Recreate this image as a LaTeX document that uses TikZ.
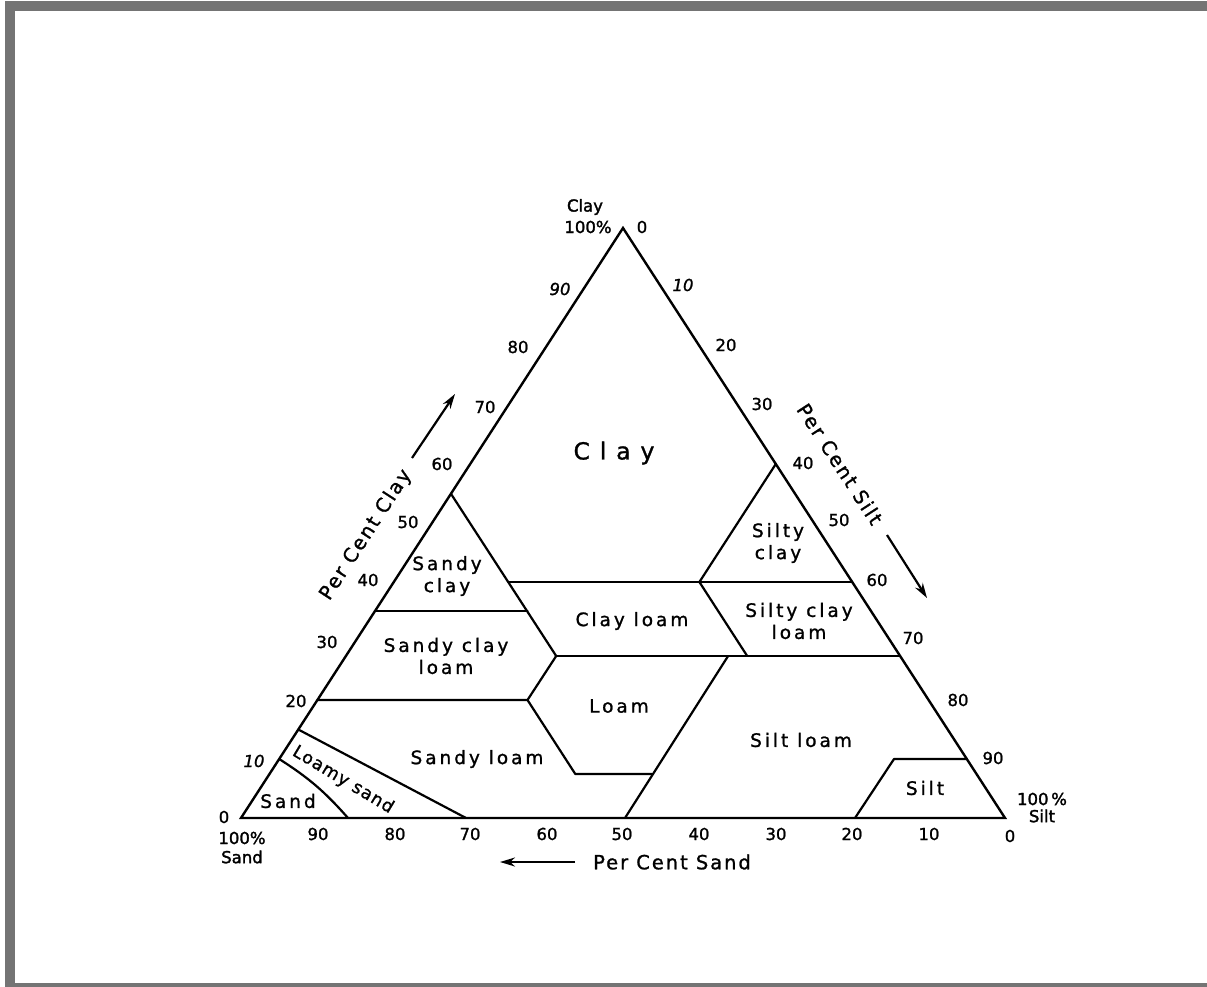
\documentclass[tikz,border=0pt]{standalone}
\usepackage{fontspec}
\setmainfont{DejaVu Sans}
\newfontfamily\numfont[FakeBold=1.2]{DejaVu Sans}
\newfontfamily\labfont[LetterSpace=16,FakeBold=1.2]{DejaVu Sans}
\newfontfamily\lsfont[LetterSpace=6,FakeBold=1.2]{DejaVu Sans}
\newfontfamily\bigfont[LetterSpace=42,FakeBold=1.2]{DejaVu Sans}
\newfontfamily\axfont[LetterSpace=10,FakeBold=1.2]{DejaVu Sans}
\newfontfamily\cornerfont[FakeBold=1.8]{DejaVu Sans}
\usetikzlibrary{arrows.meta}
\definecolor{framegray}{HTML}{747474}
\begin{document}
\begin{tikzpicture}[x=1pt,y=-1pt,
  edge/.style={line width=2.2pt,line join=round,line cap=round},
  border/.style={line width=2.4pt,line join=miter},
  num/.style={inner sep=0pt,font=\numfont\fontsize{16.5}{18}\selectfont},
  snum/.style={num,font=\numfont\fontsize{16.5}{18}\selectfont\itshape},
  region/.style={inner sep=0pt,align=center,font=\labfont\fontsize{18.5}{22}\selectfont},
  lsregion/.style={inner sep=0pt,font=\lsfont\fontsize{17.5}{20}\selectfont},
  bigregion/.style={inner sep=0pt,font=\bigfont\fontsize{23.5}{26}\selectfont},
  axtitle/.style={inner sep=0pt,font=\axfont\fontsize{19.5}{22}\selectfont},
  corner/.style={inner sep=0pt,font=\cornerfont\fontsize{16.5}{18}\selectfont},
  axarrow/.style={line width=2.2pt,-{Stealth[length=15pt,width=9pt]}}]
\useasboundingbox (0,0) rectangle (1207,987);
\fill[white] (0,0) rectangle (1207,987);
\fill[framegray] (5,1) rectangle (1207,11);
\fill[framegray] (5,1) rectangle (15,987);
\fill[framegray] (5,983) rectangle (1207,987);

% triangle vertices
\coordinate (A) at (623,228);
\coordinate (L) at (241,818);
\coordinate (R) at (1005,818);
% class boundary points
\coordinate (scTop) at (451.1,494);
\coordinate (scL) at (374.7,611);
\coordinate (scR) at (527.5,611);
\coordinate (c40a) at (508.4,582);
\coordinate (c40b) at (699.4,582);
\coordinate (c40R) at (852.2,582);
\coordinate (sicTop) at (775.8,464);
\coordinate (c275a) at (556.2,656);
\coordinate (c275b) at (747.2,656);
\coordinate (c275L) at (728.1,656);
\coordinate (c275R) at (900,656);
\coordinate (c20L) at (317.4,700);
\coordinate (c20R) at (527.5,700);
\coordinate (l75a) at (575.3,774);
\coordinate (l75b) at (651.7,774);
\coordinate (b50) at (625,818);
\coordinate (lsTop) at (298.3,729.5);
\coordinate (ls0) at (466,818);
\coordinate (sTop) at (279.2,759);
\coordinate (s0) at (348,818);
\coordinate (siTR) at (966.8,759);
\coordinate (siTL) at (894,759);
\coordinate (siB) at (855,818);

\draw[border] (L) -- (R) -- (A) -- cycle;
\draw[edge] (scTop) -- (c275a);
\draw[edge] (scL) -- (scR);
\draw[edge] (c40a) -- (c40R);
\draw[edge] (sicTop) -- (c40b) -- (c275b);
\draw[edge] (c275a) -- (c275R);
\draw[edge] (c20L) -- (c20R) -- (c275a);
\draw[edge] (c20R) -- (l75a) -- (l75b);
\draw[edge] (c275L) -- (b50);
\draw[edge] (lsTop) -- (ls0);
\draw[edge] (sTop) to[bend left=8] (s0);
\draw[edge] (siTR) -- (siTL) -- (siB);

% region labels
\node[bigregion] (tClay) at (614,453) {Clay};
\node[region] (tSandyClay) at (447,576) {Sandy\\clay};
\node[region] (tSCL) at (446,656) {Sandy clay\\loam};
\node[region] (tClayLoam) at (632,621) {Clay loam};
\node[region] (tSiltyClay) at (778,543) {Silty\\clay};
\node[region] (tSiCL) at (799,621) {Silty clay\\loam};
\node[region] (tLoam) at (619,706) {Loam};
\node[region] (tSiltLoam) at (801,740) {Silt loam};
\node[region] (tSandyLoam) at (477,759) {Sandy loam};
\node[lsregion,rotate=-31] (tLoamySand) at (343,780) {Loamy sand};
\node[region] (tSand) at (288,801) {Sand};
\node[region] (tSilt) at (925,788) {Silt};

% vertex captions
\node[corner] (cClay) at (585,207) {Clay};
\node[corner] (cClayPct) at (588,227) {100\%};
\node[num] (zTop) at (642,227) {0};
\node[corner] (cSandPct) at (242,838) {100\%};
\node[corner] (cSand) at (242,857) {Sand};
\node[corner] (cSiltPct) at (1042,799) {100\,\%};
\node[corner] (cSilt) at (1042,816) {Silt};

% left axis (clay)
\node[snum] (l90) at (560,289) {90};
\node[num] (l80) at (518,347) {80};
\node[num] (l70) at (485,407) {70};
\node[num] (l60) at (442,464) {60};
\node[num] (l50) at (408,522) {50};
\node[num] (l40) at (368,580) {40};
\node[num] (l30) at (327,642) {30};
\node[num] (l20) at (296,701) {20};
\node[snum] (l10) at (254,761) {10};
\node[num] (l0) at (224,817) {0};

% right axis (silt)
\node[snum] (r10) at (683,285) {10};
\node[num] (r20) at (726,345) {20};
\node[num] (r30) at (762,404) {30};
\node[num] (r40) at (803,463) {40};
\node[num] (r50) at (839,520) {50};
\node[num] (r60) at (877,580) {60};
\node[num] (r70) at (913,638) {70};
\node[num] (r80) at (958,700) {80};
\node[num] (r90) at (993,758) {90};

% bottom axis (sand)
\node[num] (b90) at (318,834) {90};
\node[num] (b80) at (395,834) {80};
\node[num] (b70) at (470,834) {70};
\node[num] (b60) at (547,834) {60};
\node[num] (b50l) at (622,834) {50};
\node[num] (b40) at (699,834) {40};
\node[num] (b30) at (776,834) {30};
\node[num] (b20) at (852,834) {20};
\node[num] (b10) at (929,834) {10};
\node[num] (b0) at (1010,836) {0};

% axis titles and arrows
\node[axtitle,rotate=57] (tPCClay) at (366,535) {Per Cent Clay};
\coordinate (ca1) at (412,458);
\coordinate (ca2) at (455,394);
\draw[axarrow] (ca1) -- (ca2);
\node[axtitle,rotate=-57] (tPCSilt) at (840,464) {Per Cent Silt};
\coordinate (sa1) at (887,535);
\coordinate (sa2) at (927,598);
\draw[axarrow] (sa1) -- (sa2);
\node[axtitle] (tPCSand) at (672,862) {Per Cent Sand};
\coordinate (da1) at (575,862);
\coordinate (da2) at (500,862);
\draw[axarrow] (da1) -- (da2);
\end{tikzpicture}
\end{document}
